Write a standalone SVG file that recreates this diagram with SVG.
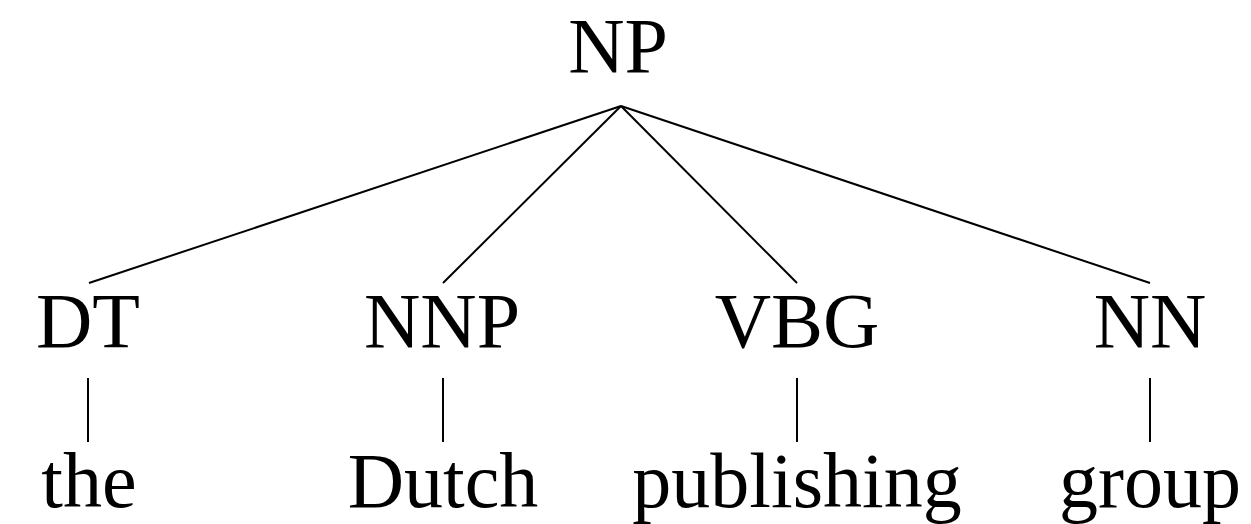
<svg xmlns="http://www.w3.org/2000/svg" width="1251" height="524" viewBox="0 0 1251 524">
  <style>
    .lbl { font-family: "Liberation Serif", "DejaVu Serif", serif; font-size: 78px; fill: #000; text-anchor: middle; }
    .edge { stroke: #000; stroke-width: 2; fill: none; }
  </style>
  <rect width="1251" height="524" fill="#fff"/>
  <g id="connectors">
    <line class="edge" x1="621" y1="106" x2="89" y2="283"/>
    <line class="edge" x1="621" y1="106" x2="443" y2="283"/>
    <line class="edge" x1="621" y1="106" x2="797" y2="283"/>
    <line class="edge" x1="621" y1="106" x2="1150" y2="283"/>
    <line class="edge" x1="88" y1="378" x2="88" y2="442"/>
    <line class="edge" x1="443" y1="378" x2="443" y2="442"/>
    <line class="edge" x1="797" y1="378" x2="797" y2="442"/>
    <line class="edge" x1="1150" y1="378" x2="1150" y2="442"/>
  </g>
  <g id="np"><text class="lbl" x="618" y="72">NP</text></g>
  <g id="dt"><text class="lbl" x="88" y="347">DT</text></g>
  <g id="nnp"><text class="lbl" x="442" y="347">NNP</text></g>
  <g id="vbg"><text class="lbl" x="797" y="347">VBG</text></g>
  <g id="nn"><text class="lbl" x="1150" y="347">NN</text></g>
  <g id="the"><text class="lbl" x="89" y="507">the</text></g>
  <g id="dutch"><text class="lbl" x="443" y="507">Dutch</text></g>
  <g id="publishing"><text class="lbl" x="797" y="507">publishing</text></g>
  <g id="group"><text class="lbl" x="1150" y="507">group</text></g>
</svg>
